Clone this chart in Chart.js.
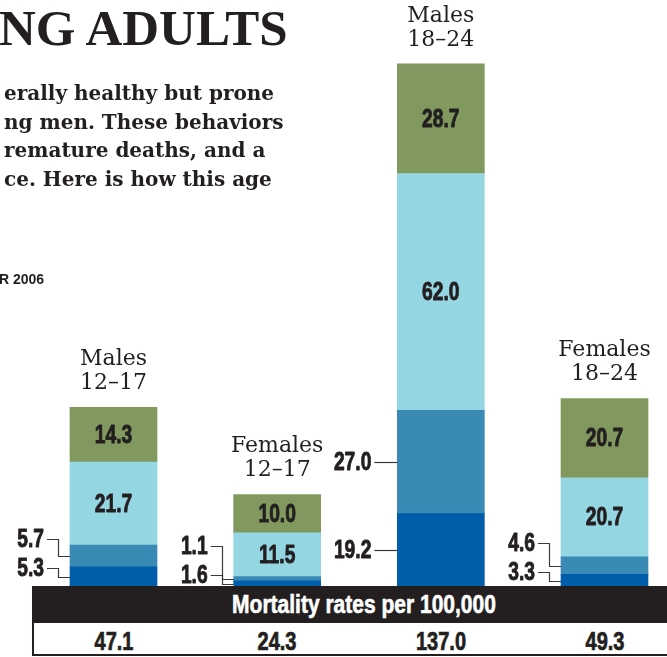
<!DOCTYPE html>
<html><head><meta charset="utf-8">
<script src="https://cdn.jsdelivr.net/npm/chart.js@4.4.1/dist/chart.umd.min.js"></script>
<style>
html,body{margin:0;padding:0;background:#fff;}
#wrap{position:relative;width:667px;height:657px;overflow:hidden;background:#fff;}
#c{position:absolute;left:0;top:0;}
.t{position:absolute;white-space:nowrap;color:#231f20;}
#title{left:-1px;top:3px;font:bold 51px/51px 'Liberation Serif','Times New Roman',serif;}
#para{left:4px;top:79px;font:bold 20px/28.7px 'DejaVu Serif',serif;}
#src{left:-1px;top:272px;font:bold 14px/14px 'Liberation Sans',Arial,sans-serif;}
#band{position:absolute;left:32px;top:586px;width:635px;height:37px;background:#231f20;}
#bandText{position:absolute;left:364px;top:586px;font:bold 25px/37px 'Liberation Sans',Arial,sans-serif;color:#fff;white-space:nowrap;-webkit-text-stroke:0.6px #fff;transform:translateX(-50%) scaleX(.84);}
#row{position:absolute;left:32px;top:623px;width:635px;height:33px;box-sizing:border-box;border-left:2px solid #231f20;border-bottom:2px solid #231f20;background:#fff;}
.tot{position:absolute;top:628px;font:bold 25px/27px 'Liberation Sans',Arial,sans-serif;color:#231f20;white-space:nowrap;-webkit-text-stroke:0.7px #231f20;transform:translateX(-50%) scaleX(.8);}
</style>
</head>
<body>
<div id="wrap">
  <canvas id="c" width="667" height="657" style="width:667px;height:657px"></canvas>
  <div class="t" id="title">NG ADULTS</div>
  <div class="t" id="para">erally healthy but prone<br>ng men. These behaviors<br>remature deaths, and a<br>ce. Here is how this age</div>
  <div class="t" id="src">R 2006</div>
  <div id="band"></div>
  <div id="bandText"></div>
  <div id="row"></div>
  <div id="totals"></div>
</div>
<script>
// ---- data ----
const categories = [['Males', '12–17'], ['Females', '12–17'], ['Males', '18–24'], ['Females', '18–24']];
const seriesNames = ['Segment 1', 'Segment 2', 'Segment 3', 'Segment 4'];
const series1 = [5.3, 1.6, 19.2, 3.3];
const series2 = [5.7, 1.1, 27.0, 4.6];
const series3 = [21.7, 11.5, 62.0, 20.7];
const series4 = [14.3, 10.0, 28.7, 20.7];
const totals = ['47.1', '24.3', '137.0', '49.3'];
const bandTitle = 'Mortality rates per 100,000';

// ---- layout / style ----
const colors = ['#005DAA', '#3A8AB6', '#95D6E3', '#81985E'];
const INK = '#231f20';
const NUM_FONT = "bold 26px 'Liberation Sans',Arial,sans-serif";
const NUM_SCALE = 0.74;
const CAT_FONT = "22px 'DejaVu Serif',serif";

document.getElementById('bandText').textContent = bandTitle;

const allSeries = [series1, series2, series3, series4];

function condensedText(ctx, text, x, y) {
  ctx.save();
  ctx.translate(x, y);
  ctx.scale(NUM_SCALE, 1);
  ctx.strokeStyle = INK;
  ctx.lineWidth = 0.9;
  ctx.lineJoin = 'round';
  ctx.fillText(text, 0, 0);
  ctx.strokeText(text, 0, 0);
  ctx.restore();
}

const segLabels = {
  id: 'segLabels',
  afterDatasetsDraw(chart) {
    const ctx = chart.ctx;
    ctx.save();
    ctx.fillStyle = INK;
    categories.forEach((cat, j) => {
      const els = allSeries.map((s, i) => chart.getDatasetMeta(i).data[j].getProps(['x', 'y', 'base', 'width'], true));
      const x = els[0].x, w = els[0].width, left = x - w / 2;
      const top = Math.min(...els.map(e => Math.min(e.y, e.base)));
      // category label
      ctx.font = CAT_FONT;
      ctx.textAlign = 'center';
      ctx.textBaseline = 'middle';
      ctx.fillText(cat[0], x, top - 48);
      ctx.fillText(cat[1], x, top - 24);
      // inner labels (series 3,4)
      ctx.font = NUM_FONT;
      [2, 3].forEach(i => {
        const e = els[i];
        const cy = (e.y + e.base) / 2;
        condensedText(ctx, allSeries[i][j].toFixed(1), x, cy + 1);
      });
      // outer labels with leader lines (series 1,2)
      const seg = [0, 1].map(i => {
        const e = els[i];
        const t = Math.min(e.y, e.base), b = Math.max(e.y, e.base);
        return { c: (t + b) / 2, h: b - t, v: allSeries[i][j] };
      });
      const y0 = seg[0].h >= 40 ? seg[0].c : seg[0].c - 9;
      const y1 = seg[1].h >= 40 ? seg[1].c : Math.min(seg[1].c - 17, y0 - 29);
      const labY = [y0, y1];
      const textRight = left - 26;
      const elbowX = left - 12;
      ctx.textAlign = 'right';
      [0, 1].forEach(k => {
        const ly = labY[k];
        condensedText(ctx, seg[k].v.toFixed(1), textRight, ly + 1);
        ctx.strokeStyle = '#3a3a3a';
        ctx.lineWidth = 1.2;
        ctx.beginPath();
        if (Math.abs(ly - seg[k].c) < 1) {
          ctx.moveTo(textRight + 3, Math.round(ly) + 0.5);
          ctx.lineTo(left, Math.round(ly) + 0.5);
        } else {
          ctx.moveTo(textRight + 3, Math.round(ly) + 0.5);
          ctx.lineTo(Math.round(elbowX) + 0.5, Math.round(ly) + 0.5);
          ctx.lineTo(Math.round(elbowX) + 0.5, Math.round(seg[k].c) + 0.5);
          ctx.lineTo(left, Math.round(seg[k].c) + 0.5);
        }
        ctx.stroke();
      });
    });
    ctx.restore();
  }
};

const chart = new Chart(document.getElementById('c'), {
  type: 'bar',
  data: {
    labels: categories.map(c => c.join(' ')),
    datasets: allSeries.map((s, i) => ({
      label: seriesNames[i],
      data: s,
      backgroundColor: colors[i],
      borderWidth: 0,
      barThickness: 87,
      clip: false
    }))
  },
  options: {
    responsive: false,
    animation: false,
    layout: { padding: { left: 113.5, right: 62.5, top: 52, bottom: 70 } },
    plugins: { legend: { display: false }, tooltip: { enabled: false } },
    scales: {
      x: { stacked: true, display: false, offset: false, grid: { display: false } },
      y: { stacked: true, display: false, min: 0, max: 140 }
    }
  },
  plugins: [segLabels]
});

// totals row aligned with the bars
const totEl = document.getElementById('totals');
totals.forEach((t, j) => {
  const s = document.createElement('div');
  s.className = 'tot';
  s.style.left = chart.scales.x.getPixelForValue(j) + 'px';
  s.textContent = t;
  totEl.appendChild(s);
});
</script>
</body></html>
